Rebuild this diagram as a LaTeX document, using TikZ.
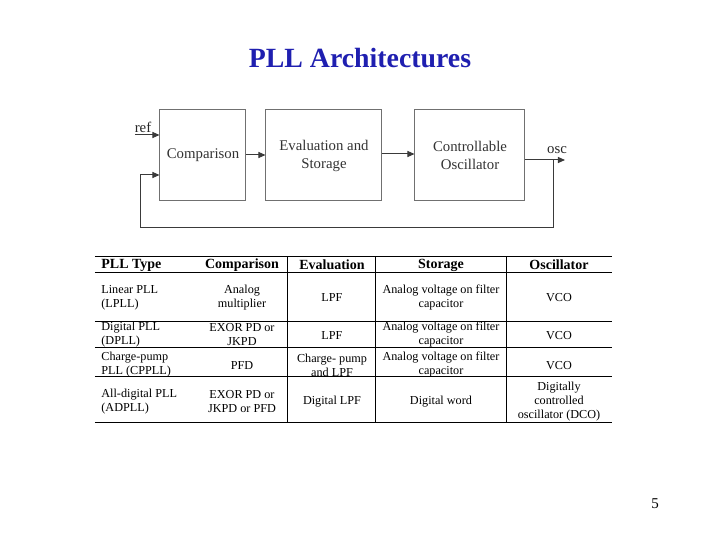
\documentclass[tikz,border=0pt]{standalone}
\usepackage{fontspec}
\setmainfont{Liberation Serif}
\usepackage{xcolor}
\usepackage{tikz}
\usetikzlibrary{arrows.meta,positioning}
\definecolor{TitleBlue}{HTML}{1F1FB0}
\definecolor{BoxLine}{HTML}{707070}
\definecolor{FlowLine}{HTML}{3A3A3A}

\tikzset{
  block/.style={draw=BoxLine, line width=0.5pt, fill=white, align=center,
    inner sep=0pt, minimum height=45.5pt, text=black!80,
    font=\fontsize{7.4}{9}\selectfont},
  flow/.style={-{Triangle[length=3.5pt,width=3pt]}, line width=0.5pt, draw=FlowLine},
  lbl/.style={inner sep=0pt, anchor=base, text=black!85, font=\fontsize{7.4}{9}\selectfont},
  cell/.style={align=center, inner sep=0pt, font=\fontsize{6.1}{7}\selectfont},
  typecell/.style={cell, align=left, anchor=west},
  head/.style={inner sep=0pt, font=\fontsize{7}{8.5}\selectfont\bfseries},
  tabrule/.style={line width=0.5pt, draw=black}
}

\begin{document}
\begin{tikzpicture}[x=0.5pt,y=-0.5pt]
  \useasboundingbox (0,0) rectangle (720,540);

  % title
  \node[text=TitleBlue, font=\fontsize{13.9}{16}\selectfont\bfseries] (title) at (360,58) {PLL Architectures};

  % block diagram
  \node[block, minimum width=43pt] (cmp) at (203,155.5) {Comparison};
  \node[block, minimum width=58pt] (eval) at (324,155.5) {Evaluation and\\Storage};
  \node[block, minimum width=55pt] (osc) at (470,155.5) {Controllable\\Oscillator};

  \coordinate (refin) at (135,135);
  \coordinate (oscout) at (565,160);
  \coordinate (tap) at (554,160);
  \coordinate (fbbot) at (141,228);
  \coordinate (fbin) at (141,175);

  \node[lbl] (reflbl) at (143,133) {ref};
  \node[lbl] (osclbl) at (557,154) {osc};

  \draw[flow] (refin) -- (cmp.west |- refin);
  \draw[flow] (cmp.east |- 0,155) -- (eval.west |- 0,155);
  \draw[flow] (eval.east |- 0,154) -- (osc.west |- 0,154);
  \draw[flow] (osc.east |- oscout) -- (oscout);
  \draw[flow] (tap) |- (fbbot) |- (cmp.west |- fbin);

  % table rules
  \draw[tabrule] (95,257) -- (612,257);
  \draw[tabrule] (95,273) -- (612,273);
  \draw[tabrule] (95,322) -- (612,322);
  \draw[tabrule] (95,348) -- (612,348);
  \draw[tabrule] (95,377) -- (612,377);
  \draw[tabrule] (95,423) -- (612,423);
  \draw[tabrule] (288,257) -- (288,423);
  \draw[tabrule] (376,257) -- (376,423);
  \draw[tabrule] (507,257) -- (507,423);

  % header
  \node[head, anchor=west] (htype) at (101,265) {PLL Type};
  \node[head] (hcmp) at (242,265) {Comparison};
  \node[head] (heval) at (332,265) {Evaluation};
  \node[head] (hstore) at (441,265) {Storage};
  \node[head] (hosc) at (559,265) {Oscillator};

  % rows
  \node[typecell] (type1) at (101,297.5) {Linear PLL\\(LPLL)};
  \node[cell] (cmp1) at (242,297.5) {Analog\\multiplier};
  \node[cell] (eval1) at (332,297.5) {LPF};
  \node[cell] (store1) at (441,297.5) {Analog voltage on filter\\capacitor};
  \node[cell] (osc1) at (559,297.5) {VCO};

  \node[typecell] (type2) at (101,335) {Digital PLL\\(DPLL)};
  \node[cell] (cmp2) at (242,335) {EXOR PD or\\JKPD};
  \node[cell] (eval2) at (332,336) {LPF};
  \node[cell] (store2) at (441,335) {Analog voltage on filter\\capacitor};
  \node[cell] (osc2) at (559,336) {VCO};

  \node[typecell] (type3) at (101,365) {Charge-pump\\PLL (CPPLL)};
  \node[cell] (cmp3) at (242,366) {PFD};
  \node[cell] (eval3) at (332,365) {Charge- pump\\and LPF};
  \node[cell] (store3) at (441,365) {Analog voltage on filter\\capacitor};
  \node[cell] (osc3) at (559,366) {VCO};

  \node[typecell] (type4) at (101,402) {All-digital PLL\\(ADPLL)};
  \node[cell] (cmp4) at (242,402) {EXOR PD or\\JKPD or PFD};
  \node[cell] (eval4) at (332,402) {Digital LPF};
  \node[cell] (store4) at (441,402) {Digital word};
  \node[cell] (osc4) at (559,402) {Digitally\\controlled\\oscillator (DCO)};

  % page number
  \node[font=\fontsize{7.5}{9}\selectfont, inner sep=0pt] (pagenum) at (655,504) {5};
\end{tikzpicture}
\end{document}
